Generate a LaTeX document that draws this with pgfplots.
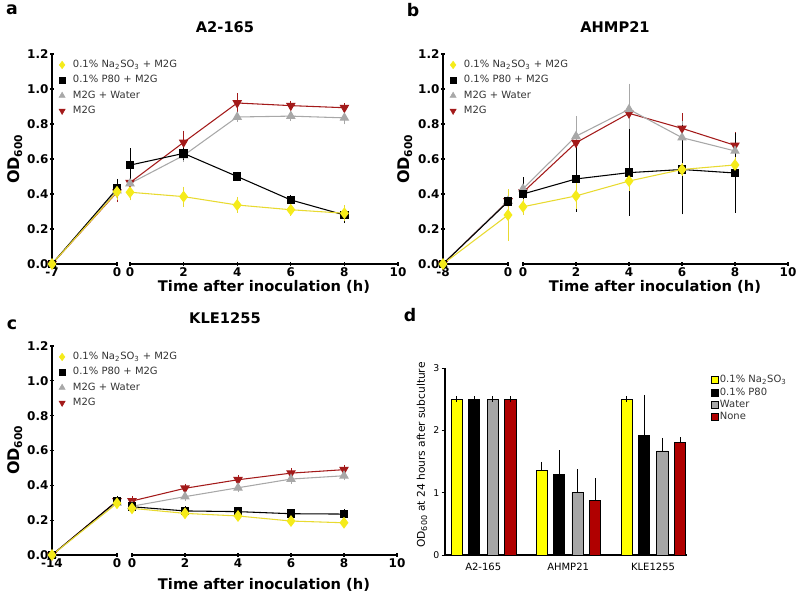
\documentclass[border=0pt]{standalone}
\usepackage{pgfplots}
\pgfplotsset{compat=1.18}
\usepackage{fontspec}
\setmainfont{DejaVu Sans}
\newcommand{\fs}[1]{\fontsize{#1}{#1}\selectfont}
\definecolor{cY}{HTML}{F5EB1A}
\definecolor{cYl}{HTML}{E8DA30}
\definecolor{cG}{HTML}{A8A8A8}
\definecolor{cR}{HTML}{A31A1A}
\definecolor{bY}{HTML}{FFFF00}
\definecolor{bG}{HTML}{A6A6A6}
\definecolor{bR}{HTML}{B00000}
\pgfplotsset{
  base/.style={scale only axis, clip=false, enlargelimits=false,
    tick align=outside, major tick length=2.5pt,
    every tick/.style={black, line width=0.8pt},
    tick label style={font=\fs{9}\bfseries, inner sep=1.2pt},
    /pgf/number format/assume math mode=true,
    ymin=0, ymax=1.2, height=157.5pt},
  segL/.style={base, anchor=south west, axis x line=bottom, axis y line=left, width=48.75pt,
    axis line style={-, line width=1pt},
    ytick={0,0.2,0.4,0.6,0.8,1.0,1.2},
    yticklabel style={/pgf/number format/fixed, /pgf/number format/fixed zerofill, /pgf/number format/precision=1},
    legend style={at={(axis description cs:0.06,0.975)}, anchor=north west, draw=none, fill=none,
      font=\fs{7.5}, text=black!80, inner sep=0pt, row sep=3.3pt,
      nodes={text height=5.2pt, text depth=1.4pt, inner sep=0.8pt}},
    legend cell align=left},
  segR/.style={base, anchor=south west, axis x line=bottom, axis y line=none, xmin=0, xmax=10, xtick={0,2,4,6,8,10},
    axis line style={-, line width=1pt}},
  eb/.style={error bars/y dir=both, error bars/y explicit,
    error bars/error bar style={line width=0.6pt},
    error bars/error mark options={line width=0.6pt, mark size=2.2pt}},
  sY/.style={color=cYl, line width=0.8pt, mark=diamond*, mark size=3.8pt, mark options={solid, fill=cY, draw=cY}, eb},
  sK/.style={color=black, line width=0.8pt, mark=square*, mark size=2.8pt, mark options={solid, fill=black}, eb},
  sG/.style={color=cG, line width=0.8pt, mark=triangle*, mark size=3.4pt, mark options={solid, fill=cG}, eb},
  sR/.style={color=cR, line width=0.8pt, mark=triangle*, mark size=3.4pt, mark options={solid, fill=cR, rotate=180}, eb},
}
\newcommand{\lmark}[1]{\addlegendimage{legend image code/.code={\path[#1] plot[only marks] coordinates {(0.15cm,0cm)}; \path (0cm,0cm) (0.4cm,0cm);}}}
\newcommand{\lineLegend}{%
  \lmark{mark=diamond*, mark size=2.8pt, draw=cY, fill=cY}
  \lmark{mark=square*, mark size=2.2pt, draw=black, fill=black}
  \lmark{mark=triangle*, mark size=2.6pt, draw=cG, fill=cG}
  \lmark{mark=triangle*, mark size=2.6pt, draw=cR, fill=cR, mark options={rotate=180}}
  \legend{0.1\% Na\textsubscript{2}SO\textsubscript{3} + M2G, 0.1\% P80 + M2G, M2G + Water, M2G}}
\begin{document}
\begin{tikzpicture}
\useasboundingbox (0,0) rectangle (600pt,447pt);
% ---------------- panel a ----------------
\begin{axis}[segL, at={(39pt,249pt)}, xmin=-7, xmax=0, xtick={-7,0}]
\lineLegend
\addplot[sR, forget plot] coordinates {(-7,0) +- (0,0) (0,0.41) +- (0,0.04)};
\addplot[sG, forget plot] coordinates {(-7,0) +- (0,0) (0,0.42) +- (0,0.03)};
\addplot[sK, forget plot] coordinates {(-7,0) +- (0,0) (0,0.43) +- (0,0.04)};
\addplot[sY, forget plot] coordinates {(-7,0) +- (0,0) (0,0.413) +- (0,0.03)};
\end{axis}
\begin{axis}[segR, at={(97.5pt,249pt)}, width=201pt]
\addplot[sR] coordinates {(0,0.465) +- (0,0.05) (2,0.695) +- (0,0.05) (4,0.92) +- (0,0.04) (6,0.905) +- (0,0.01) (8,0.893) +- (0,0.01)};
\addplot[sG] coordinates {(0,0.46) +- (0,0.03) (2,0.62) +- (0,0.02) (4,0.84) +- (0,0.01) (6,0.845) +- (0,0.01) (8,0.835) +- (0,0.02)};
\addplot[sK] coordinates {(0,0.565) +- (0,0.08) (2,0.632) +- (0,0.02) (4,0.50) +- (0,0.01) (6,0.366) +- (0,0.01) (8,0.28) +- (0,0.03)};
\addplot[sY] coordinates {(0,0.41) +- (0,0.03) (2,0.385) +- (0,0.04) (4,0.337) +- (0,0.03) (6,0.31) +- (0,0.02) (8,0.29) +- (0,0.03)};
\end{axis}
% ---------------- panel b ----------------
\begin{axis}[segL, at={(332.25pt,249pt)}, xmin=-8, xmax=0, xtick={-8,0}]
\lineLegend
\addplot[sR, forget plot] coordinates {(-8,0) +- (0,0) (0,0.36) +- (0,0.05)};
\addplot[sG, forget plot] coordinates {(-8,0) +- (0,0) (0,0.36) +- (0,0.05)};
\addplot[sK, forget plot] coordinates {(-8,0) +- (0,0) (0,0.356) +- (0,0.05)};
\addplot[sY, forget plot] coordinates {(-8,0) +- (0,0) (0,0.28) +- (0,0.13)};
\end{axis}
\begin{axis}[segR, at={(392.25pt,249pt)}, width=198.75pt]
\addplot[sR] coordinates {(0,0.41) +- (0,0.04) (2,0.693) +- (0,0.11) (4,0.861) +- (0,0.10) (6,0.775) +- (0,0.07) (8,0.678) +- (0,0.06)};
\addplot[sG] coordinates {(0,0.43) +- (0,0.05) (2,0.73) +- (0,0.10) (4,0.884) +- (0,0.13) (6,0.722) +- (0,0.08) (8,0.646) +- (0,0.06)};
\addplot[sK] coordinates {(0,0.40) +- (0,0.08) (2,0.486) +- (0,0.17) (4,0.522) +- (0,0.23) (6,0.54) +- (0,0.24) (8,0.52) +- (0,0.21)};
\addplot[sY] coordinates {(0,0.327) +- (0,0.03) (2,0.389) +- (0,0.06) (4,0.474) +- (0,0.04) (6,0.54) +- (0,0.02) (8,0.566) +- (0,0.03)};
\end{axis}
% ---------------- panel c ----------------
\begin{axis}[segL, at={(39pt,30.75pt)}, height=156.75pt, xmin=-14, xmax=0, xtick={-14,0}]
\lineLegend
\addplot[sR, forget plot] coordinates {(-14,0) +- (0,0) (0,0.31) +- (0,0.01)};
\addplot[sG, forget plot] coordinates {(-14,0) +- (0,0) (0,0.30) +- (0,0.01)};
\addplot[sK, forget plot] coordinates {(-14,0) +- (0,0) (0,0.31) +- (0,0.01)};
\addplot[sY, forget plot] coordinates {(-14,0) +- (0,0) (0,0.297) +- (0,0.01)};
\end{axis}
\begin{axis}[segR, at={(99pt,30.75pt)}, height=156.75pt, width=198.75pt]
\addplot[sR] coordinates {(0,0.31) +- (0,0.01) (2,0.383) +- (0,0.01) (4,0.432) +- (0,0.01) (6,0.47) +- (0,0.01) (8,0.49) +- (0,0.01)};
\addplot[sG] coordinates {(0,0.28) +- (0,0.01) (2,0.335) +- (0,0.01) (4,0.386) +- (0,0.01) (6,0.436) +- (0,0.01) (8,0.455) +- (0,0.01)};
\addplot[sK] coordinates {(0,0.277) +- (0,0.01) (2,0.253) +- (0,0.01) (4,0.249) +- (0,0.01) (6,0.237) +- (0,0.01) (8,0.235) +- (0,0.01)};
\addplot[sY] coordinates {(0,0.268) +- (0,0.01) (2,0.239) +- (0,0.01) (4,0.224) +- (0,0.01) (6,0.195) +- (0,0.01) (8,0.185) +- (0,0.01)};
\end{axis}
% ---------------- panel d ----------------
\begin{axis}[scale only axis, anchor=south west, at={(333.75pt,30.75pt)}, width=181.5pt, height=140.25pt,
  xmin=-0.45, xmax=2.4, ymin=0, ymax=3, clip=false,
  axis x line=bottom, axis y line=left, axis line style={-, line width=0.8pt},
  tick align=outside, major tick length=2.5pt, every tick/.style={black, line width=0.7pt},
  ytick={0,1,2,3}, xtick={0,1,2}, xticklabels={A2-165,AHMP21,KLE1255},
  xtick style={draw=none},
  yticklabel style={font=\fs{7}, inner sep=1.5pt}, xticklabel style={font=\fs{7.5}},
  /pgf/number format/assume math mode=true,
  ybar, bar width=0.13,
  legend style={at={(axis description cs:1.10,0.965)}, anchor=north west, draw=none, fill=none,
    font=\fs{7.5}, text=black!80, inner sep=0pt, row sep=1.2pt,
    nodes={text height=5.4pt, text depth=1.4pt, inner sep=0.6pt}},
  legend cell align=left,
  every axis plot/.append style={draw=black, line width=0.6pt,
    error bars/y dir=plus, error bars/y explicit,
    error bars/error bar style={line width=0.6pt, black},
    error bars/error mark options={line width=0.6pt, mark size=2.2pt, black}}]
\addlegendimage{legend image code/.code={\draw[fill=bY,draw=black,line width=0.5pt] (0pt,-2.6pt) rectangle (5.2pt,2.6pt);}}
\addlegendimage{legend image code/.code={\draw[fill=black,draw=black,line width=0.5pt] (0pt,-2.6pt) rectangle (5.2pt,2.6pt);}}
\addlegendimage{legend image code/.code={\draw[fill=bG,draw=black,line width=0.5pt] (0pt,-2.6pt) rectangle (5.2pt,2.6pt);}}
\addlegendimage{legend image code/.code={\draw[fill=bR,draw=black,line width=0.5pt] (0pt,-2.6pt) rectangle (5.2pt,2.6pt);}}
\addplot[fill=bY, bar shift=-0.31, forget plot] coordinates {(0,2.5) +- (0,0) (1,1.355) +- (0,0.09) (2,2.5) +- (0,0)};
\addplot[fill=black, bar shift=-0.105, forget plot] coordinates {(0,2.5) +- (0,0) (1,1.285) +- (0,0.35) (2,1.912) +- (0,0.61)};
\addplot[fill=bG, bar shift=0.11, forget plot] coordinates {(0,2.5) +- (0,0) (1,1.0) +- (0,0.33) (2,1.67) +- (0,0.16)};
\addplot[fill=bR, bar shift=0.32, forget plot] coordinates {(0,2.5) +- (0,0) (1,0.873) +- (0,0.31) (2,1.805) +- (0,0.035)};
\legend{0.1\% Na\textsubscript{2}SO\textsubscript{3}, 0.1\% P80, Water, None}
\end{axis}
% ---------------- text ----------------
\node[font=\fs{13}\bfseries] at (9pt,439.5pt) {a};
\node[font=\fs{13}\bfseries] at (309.75pt,439.5pt) {b};
\node[font=\fs{13}\bfseries] at (9pt,203.25pt) {c};
\node[font=\fs{13}\bfseries] at (307.5pt,210.75pt) {d};
\node[font=\fs{11}\bfseries] at (168.75pt,426.75pt) {A2-165};
\node[font=\fs{11}\bfseries] at (461.25pt,426.75pt) {AHMP21};
\node[font=\fs{11}\bfseries] at (168.75pt,208.5pt) {KLE1255};
\node[font=\fs{11}\bfseries] at (198pt,232pt) {Time after inoculation (h)};
\node[font=\fs{11}\bfseries] at (491.25pt,232pt) {Time after inoculation (h)};
\node[font=\fs{11}\bfseries] at (198pt,8pt) {Time after inoculation (h)};
\node[font=\fs{12}\bfseries, rotate=90] at (11.25pt,327.75pt) {OD\textsubscript{600}};
\node[font=\fs{12}\bfseries, rotate=90] at (303.75pt,327.75pt) {OD\textsubscript{600}};
\node[font=\fs{12}\bfseries, rotate=90] at (11.25pt,109.5pt) {OD\textsubscript{600}};
\node[font=\fs{8}, rotate=90] at (316.5pt,105.75pt) {OD\textsubscript{600} at 24 hours after subculture};
\end{tikzpicture}
\end{document}
